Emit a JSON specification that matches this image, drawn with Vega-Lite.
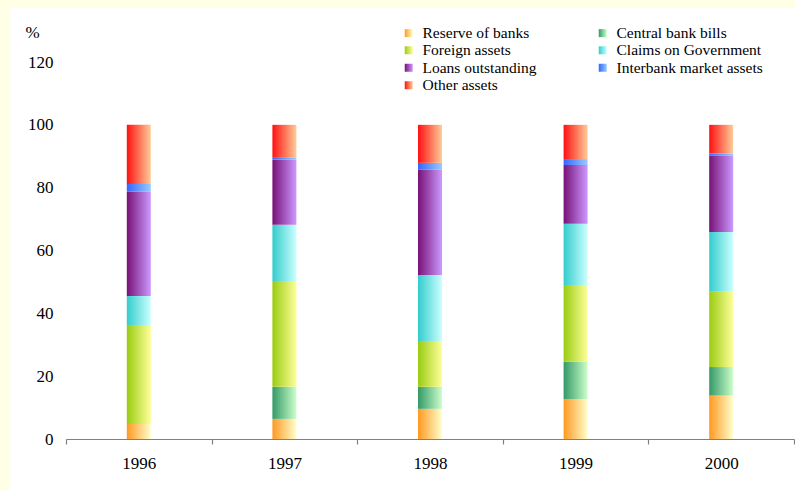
{
  "$schema": "https://vega.github.io/schema/vega-lite/v6.json",
  "width": 785,
  "height": 482,
  "autosize": "none",
  "padding": {"left": 10, "top": 8, "right": 0, "bottom": 0},
  "background": "#FFFFE6",
  "config": {
    "view": {"fill": "white", "stroke": null},
    "font": "Liberation Serif"
  },
  "params": [
    {
      "name": "grads",
      "value": {
        "Reserve of banks": {"gradient": "linear", "stops": [{"offset": 0, "color": "#FF9922"}, {"offset": 1, "color": "#FFFFCC"}]},
        "Central bank bills": {"gradient": "linear", "stops": [{"offset": 0, "color": "#339966"}, {"offset": 1, "color": "#CCFFCC"}]},
        "Foreign assets": {"gradient": "linear", "stops": [{"offset": 0, "color": "#99CC11"}, {"offset": 1, "color": "#FFFF99"}]},
        "Claims on Government": {"gradient": "linear", "stops": [{"offset": 0, "color": "#33CCCC"}, {"offset": 1, "color": "#CCFFFF"}]},
        "Loans outstanding": {"gradient": "linear", "stops": [{"offset": 0, "color": "#771177"}, {"offset": 1, "color": "#CC99FF"}]},
        "Interbank market assets": {"gradient": "linear", "stops": [{"offset": 0, "color": "#3366FF"}, {"offset": 1, "color": "#99CCFF"}]},
        "Other assets": {"gradient": "linear", "stops": [{"offset": 0, "color": "#FF1111"}, {"offset": 1, "color": "#FFCC99"}]}
      }
    }
  ],
  "data": {
    "values": [
      {"year": "1996", "series": "Reserve of banks", "value": 4.8},
      {"year": "1996", "series": "Central bank bills", "value": 0},
      {"year": "1996", "series": "Foreign assets", "value": 31.2},
      {"year": "1996", "series": "Claims on Government", "value": 9.5},
      {"year": "1996", "series": "Loans outstanding", "value": 33.2},
      {"year": "1996", "series": "Interbank market assets", "value": 2.5},
      {"year": "1996", "series": "Other assets", "value": 18.8},
      {"year": "1997", "series": "Reserve of banks", "value": 6.4},
      {"year": "1997", "series": "Central bank bills", "value": 10.2},
      {"year": "1997", "series": "Foreign assets", "value": 33.7},
      {"year": "1997", "series": "Claims on Government", "value": 17.9},
      {"year": "1997", "series": "Loans outstanding", "value": 20.7},
      {"year": "1997", "series": "Interbank market assets", "value": 0.6},
      {"year": "1997", "series": "Other assets", "value": 10.5},
      {"year": "1998", "series": "Reserve of banks", "value": 9.6},
      {"year": "1998", "series": "Central bank bills", "value": 7.0},
      {"year": "1998", "series": "Foreign assets", "value": 14.6},
      {"year": "1998", "series": "Claims on Government", "value": 21.0},
      {"year": "1998", "series": "Loans outstanding", "value": 33.5},
      {"year": "1998", "series": "Interbank market assets", "value": 2.2},
      {"year": "1998", "series": "Other assets", "value": 12.1},
      {"year": "1999", "series": "Reserve of banks", "value": 12.7},
      {"year": "1999", "series": "Central bank bills", "value": 11.9},
      {"year": "1999", "series": "Foreign assets", "value": 24.4},
      {"year": "1999", "series": "Claims on Government", "value": 19.5},
      {"year": "1999", "series": "Loans outstanding", "value": 18.7},
      {"year": "1999", "series": "Interbank market assets", "value": 1.9},
      {"year": "1999", "series": "Other assets", "value": 10.9},
      {"year": "2000", "series": "Reserve of banks", "value": 13.8},
      {"year": "2000", "series": "Central bank bills", "value": 9.1},
      {"year": "2000", "series": "Foreign assets", "value": 24.0},
      {"year": "2000", "series": "Claims on Government", "value": 19.0},
      {"year": "2000", "series": "Loans outstanding", "value": 24.3},
      {"year": "2000", "series": "Interbank market assets", "value": 0.7},
      {"year": "2000", "series": "Other assets", "value": 9.1}
    ]
  },
  "transform": [
    {"stack": "value", "groupby": ["year"], "as": ["v0", "v1"]}
  ],
  "mark": {
    "type": "bar",
    "width": 24,
    "strokeWidth": 0,
    "fill": {"expr": "grads[datum.series || datum.value]"}
  },
  "encoding": {
    "x": {
      "field": "year",
      "type": "nominal",
      "scale": {"range": [56, 784], "paddingInner": 0, "paddingOuter": 0},
      "axis": {
        "orient": "bottom",
        "offset": -51,
        "title": null,
        "labelAngle": 0,
        "labelFontSize": 17,
        "labelColor": "black",
        "labelPadding": 11,
        "domainColor": "#808080",
        "domainWidth": 1.2,
        "tickColor": "#808080",
        "tickSize": 5,
        "tickWidth": 1.2,
        "tickBand": "extent",
        "grid": false
      }
    },
    "y": {
      "field": "v0",
      "type": "quantitative",
      "scale": {"domain": [0, 120], "range": [431, 54], "nice": false},
      "axis": {
        "orient": "left",
        "offset": -45,
        "values": [0, 20, 40, 60, 80, 100, 120],
        "domain": false,
        "ticks": false,
        "tickSize": 0,
        "grid": false,
        "labelPadding": 2,
        "labelFontSize": 17,
        "labelColor": "black",
        "title": "%",
        "titleAngle": 0,
        "titleX": -30,
        "titleY": 29,
        "titleAlign": "left",
        "titleBaseline": "alphabetic",
        "titleFontSize": 17,
        "titleFontWeight": "normal",
        "titleColor": "black"
      }
    },
    "y2": {"field": "v1"},
    "stroke": {
      "field": "series",
      "type": "nominal",
      "scale": {
        "domain": ["Reserve of banks", "Foreign assets", "Loans outstanding", "Other assets", "Central bank bills", "Claims on Government", "Interbank market assets"],
        "range": ["#FFCC77", "#CCE655", "#A055BB", "#FF7755", "#88CC99", "#88E6E6", "#6699FF"]
      },
      "legend": {
        "orient": "none",
        "legendX": 391,
        "legendY": 17,
        "columns": 2,
        "title": null,
        "symbolType": "square",
        "symbolSize": 64,
        "symbolStrokeWidth": 0,
        "labelFont": "Liberation Serif",
        "labelFontSize": 15.5,
        "labelColor": "black",
        "labelOffset": 6,
        "labelLimit": 300,
        "rowPadding": 0.5,
        "columnPadding": 58,
        "padding": 0
      }
    }
  }
}
